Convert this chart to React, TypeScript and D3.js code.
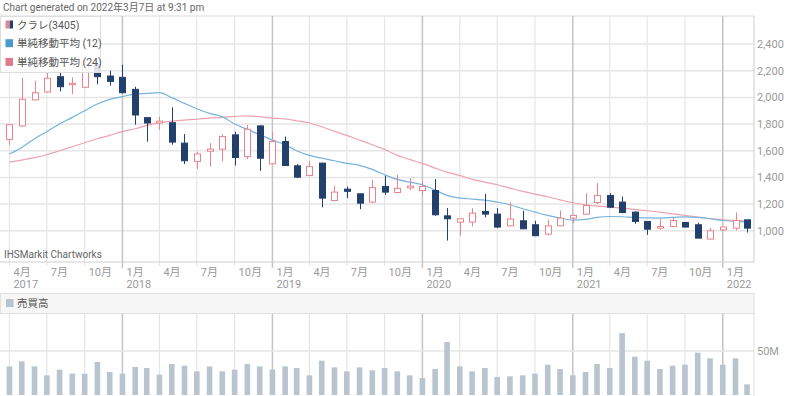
import React from "react";
import * as d3 from "d3";

// monthly candles, Apr 2017 .. Mar 2022
const months = d3.timeMonth.range(new Date(2017, 3, 1), new Date(2022, 3, 1));

const open = [
  1685, 1786, 1981, 2040, 2155, 2095, 2076, 2245, 2160, 2150, 2060, 1848,
  1808, 1810, 1657, 1520, 1596, 1612, 1719, 1556, 1786, 1502, 1669, 1487,
  1414, 1507, 1227, 1312, 1277, 1215, 1332, 1287, 1322, 1302, 1302, 1112,
  1065, 1065, 1145, 1125, 1037, 1075, 1045, 975, 1037, 1095, 1125, 1212,
  1264, 1215, 1140, 1070, 1020, 1032, 1062, 1045, 938, 1007, 1020, 1082,
];
const high = [
  1800, 2145, 2125, 2195, 2185, 2150, 2250, 2260, 2200, 2245, 2080, 1850,
  1855, 1925, 1725, 1594, 1657, 1724, 1743, 1794, 1790, 1739, 1706, 1499,
  1524, 1510, 1337, 1332, 1280, 1382, 1412, 1419, 1395, 1369, 1387, 1170,
  1095, 1170, 1277, 1170, 1215, 1150, 1075, 1082, 1152, 1120, 1282, 1357,
  1282, 1257, 1145, 1070, 1088, 1095, 1062, 1062, 1020, 1028, 1137, 1082,
];
const low = [
  1645, 1780, 1978, 2035, 2045, 2025, 2070, 2098, 2088, 2030, 1795, 1668,
  1757, 1645, 1500, 1464, 1482, 1519, 1489, 1537, 1449, 1500, 1487, 1395,
  1412, 1175, 1225, 1245, 1162, 1207, 1270, 1285, 1302, 1270, 1112, 927,
  965, 1032, 1100, 1020, 1035, 1012, 960, 965, 1035, 1058, 1120, 1200,
  1170, 1132, 1052, 970, 1007, 1028, 1028, 945, 935, 1000, 1002, 987,
];
const close = [
  1795, 1986, 2035, 2143, 2080, 2105, 2245, 2155, 2120, 2035, 1868, 1808,
  1822, 1665, 1525, 1576, 1612, 1706, 1549, 1761, 1544, 1669, 1489, 1402,
  1481, 1245, 1290, 1296, 1207, 1324, 1290, 1318, 1335, 1332, 1120, 1090,
  1090, 1132, 1125, 1028, 1088, 1015, 963, 1037, 1095, 1115, 1189, 1264,
  1177, 1137, 1070, 1012, 1032, 1077, 1028, 945, 1000, 1028, 1077, 1020,
];
const sma12 = [
  1576, 1625, 1690, 1743, 1801, 1850, 1900, 1950, 1985, 2006, 2025, 2030,
  2035, 1998, 1955, 1915, 1880, 1856, 1800, 1760, 1720, 1680, 1645, 1600,
  1565, 1544, 1525, 1505, 1490, 1460, 1420, 1385, 1365, 1345, 1305, 1265,
  1245, 1238, 1230, 1215, 1195, 1165, 1140, 1115, 1095, 1080, 1085, 1100,
  1107, 1105, 1100, 1097, 1095, 1100, 1105, 1100, 1090, 1077, 1070, 1065,
];
const sma24 = [
  1514, 1530, 1548, 1570, 1600, 1630, 1660, 1690, 1715, 1743, 1765, 1790,
  1811, 1822, 1830, 1836, 1845, 1850, 1857, 1862, 1855, 1845, 1838, 1825,
  1808, 1780, 1745, 1715, 1680, 1645, 1610, 1565, 1535, 1505, 1470, 1440,
  1415, 1385, 1365, 1345, 1320, 1295, 1275, 1255, 1232, 1210, 1195, 1185,
  1178, 1170, 1160, 1150, 1140, 1127, 1115, 1103, 1092, 1082, 1078, 1075,
];
// 売買高 (millions)
const volume = [
  32.5, 38.3, 32.5, 22.4, 28.8, 24.3, 24.3, 37.5, 26.1, 24.3, 31.8, 30.7,
  23.1, 35.2, 33.3, 26.9, 32.5, 26.9, 28.8, 35.2, 32.5, 28.8, 32.5, 30.7,
  22.4, 39.0, 31.4, 26.9, 31.4, 28.0, 30.7, 26.9, 22.4, 19.3, 29.5, 60.2,
  32.5, 26.9, 30.7, 20.5, 21.2, 22.4, 24.3, 34.5, 29.5, 22.4, 26.1, 35.2,
  30.7, 70.4, 43.6, 39.0, 29.5, 33.3, 34.5, 48.1, 41.7, 34.5, 41.7, 12.1,
];
const priceTicks = [1000, 1200, 1400, 1600, 1800, 2000, 2200, 2400];
const legendItems = ["クラレ(3405)", "単純移動平均 (12)", "単純移動平均 (24)"];

const W = 800;
const H = 396;
const plotR = 754;
const font = "Roboto, 'Noto Sans CJK JP', sans-serif";
const upColor = "#e8848e";
const downColor = "#233f6c";
const blue = "#77b3dc";
const pink = "#eda3ad";
const grid = "#e6e6e6";
const yearGrid = "#c4c4c4";
const axisText = "#9a9a9a";

const App = () => {
  const x = d3
    .scaleTime()
    .domain([new Date(2017, 2, 9), new Date(2022, 2, 18)])
    .range([0, plotR]);
  const y = d3.scaleLinear().domain([766, 2610]).range([262, 16]);
  const yv = d3.scaleLinear().domain([0, 93.2]).range([395, 313]);
  const quarters = d3.timeMonth
    .every(3)!
    .range(new Date(2017, 3, 1), new Date(2022, 2, 1));
  const line = (vals: number[]) =>
    d3
      .line<number>()
      .x((_, i) => x(months[i]))
      .y((d) => y(d))
      .curve(d3.curveMonotoneX)(vals) as string;
  const cw = 6;

  return (
    <div style={{ position: "absolute", left: 0, top: 0 }}>
      <svg width={W} height={H} style={{ display: "block", fontFamily: font }}>
        <rect width={W} height={H} fill="#fff" />
        <text x={3} y={11} fontSize={10} fill="#666">
          Chart generated on 2022年3月7日 at 9:31 pm
        </text>

        {/* price panel grid */}
        {priceTicks.map((t) => (
          <g key={t}>
            <line x1={0} x2={plotR} y1={y(t)} y2={y(t)} stroke={grid} strokeWidth={1.5} />
            <text x={757} y={y(t) + 4} fontSize={11} fill={axisText}>
              {d3.format(",")(t)}
            </text>
          </g>
        ))}
        <line x1={0} x2={plotR} y1={16} y2={16} stroke={grid} strokeWidth={1.5} />
        {quarters.map((d) => {
          const isYear = d.getMonth() === 0;
          return (
            <g key={+d}>
              <line
                x1={x(d)} x2={x(d)} y1={16} y2={isYear ? 268 : 266}
                stroke={isYear ? yearGrid : grid} strokeWidth={isYear ? 1.5 : 1.2}
              />
              <line
                x1={x(d)} x2={x(d)} y1={313} y2={395}
                stroke={isYear ? yearGrid : grid} strokeWidth={isYear ? 1.5 : 1.2}
              />
              <text x={x(d) + 4} y={276} fontSize={11} fill={axisText}>
                {d.getMonth() + 1}月
              </text>
              {(isYear || +d === +quarters[0]) && (
                <text x={x(d) + 4} y={288} fontSize={11} fill={axisText}>
                  {d.getFullYear()}
                </text>
              )}
            </g>
          );
        })}
        <line x1={0} x2={plotR} y1={262} y2={262} stroke="#cfcfcf" />
        <line x1={plotR} x2={plotR} y1={16} y2={262} stroke="#cfcfcf" />

        {/* moving averages */}
        <path d={line(sma24)} fill="none" stroke={pink} strokeWidth={1.2} />
        <path d={line(sma12)} fill="none" stroke={blue} strokeWidth={1.2} />

        {/* candles */}
        {months.map((m, i) => {
          const up = close[i] >= open[i];
          const c = up ? upColor : downColor;
          const top = y(Math.max(open[i], close[i]));
          const bot = y(Math.min(open[i], close[i]));
          const cx = Math.round(x(m)) + 0.5;
          return (
            <g key={i}>
              <line x1={cx} x2={cx} y1={y(high[i])} y2={top} stroke={c} />
              <line x1={cx} x2={cx} y1={bot} y2={y(low[i])} stroke={c} />
              <rect
                x={cx - cw / 2}
                y={top}
                width={cw}
                height={Math.max(1, bot - top)}
                fill={up ? "#fff" : downColor}
                stroke={c}
              />
            </g>
          );
        })}

        <text x={4} y={258} fontSize={10} fill="#666">
          IHSMarkit Chartworks
        </text>

        {/* legend */}
        <rect x={0.5} y={16.5} width={100} height={56} fill="rgba(255,255,255,0.85)" stroke="#ddd" />
        {legendItems.map((label, i) => {
          const cy = 24.5 + i * 18.7;
          return (
            <g key={label}>
              {i === 0 ? (
                <>
                  <rect x={5.5} y={cy - 4} width={3.5} height={8} fill={upColor} />
                  <rect x={9.5} y={cy - 4} width={3.5} height={8} fill={downColor} />
                </>
              ) : (
                <rect x={5.5} y={cy - 4} width={7.5} height={8} fill={i === 1 ? "#4a9ad0" : "#e07a89"} />
              )}
              <text x={17} y={cy + 4} fontSize={10.5} fill="#555">
                {label}
              </text>
            </g>
          );
        })}

        {/* volume panel */}
        <rect x={0.5} y={293.5} width={plotR - 0.5} height={20} fill="#f7f7f7" stroke="#e0e0e0" />
        <rect x={6} y={299} width={7.5} height={8} fill="#b8c5cf" />
        <text x={17} y={307} fontSize={10.5} fill="#555">
          売買高
        </text>
        <line x1={0} x2={plotR} y1={yv(50)} y2={yv(50)} stroke={grid} strokeWidth={1.5} />
        <text x={757} y={yv(50) + 4} fontSize={11} fill={axisText}>
          50M
        </text>
        {months.map((m, i) => (
          <rect
            key={i}
            x={x(m) - 2.8}
            y={yv(volume[i])}
            width={5.6}
            height={yv(0) - yv(volume[i])}
            fill="#b8c5cf"
          />
        ))}
        <line x1={plotR} x2={plotR} y1={313} y2={396} stroke="#e0e0e0" />
      </svg>
    </div>
  );
};

export default App;
